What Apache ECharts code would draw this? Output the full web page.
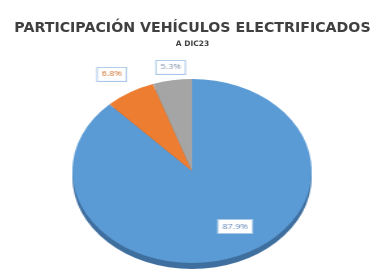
<!DOCTYPE html>
<html>
<head>
<meta charset="utf-8">
<script src="https://cdn.jsdelivr.net/npm/echarts@6/dist/echarts.min.js"></script>
<style>
  body { margin: 0; background: #fff; }
  .wrap { position: relative; width: 385px; height: 272px; overflow: hidden; }
  #titulo, #torta { position: absolute; left: 0; top: 0; width: 385px; height: 272px; }
  /* la torta de Excel es 3D e inclinada: se estira en horizontal */
  #torta { transform: scaleX(1.3); transform-origin: 192px 0; }
</style>
</head>
<body>
<div class="wrap">
  <div id="titulo"></div>
  <div id="torta"></div>
</div>
<script>
  // datos (participacion a dic-23)
  var tipos = ['Híbridos', 'Híbridos enchufables', 'Eléctricos'];
  var participacion = [87.9, 6.8, 5.3];

  var colores = ['#5b9bd5', '#ed7d31', '#a5a5a5'];
  var coloresLado = ['#3f6f9f', '#b25b21', '#7a7a7a'];
  var coloresTexto = ['#5f86b6', '#cf6f2c', '#8094ad'];

  var titulo = echarts.init(document.getElementById('titulo'));
  titulo.setOption({
    title: [
      {
        text: 'PARTICIPACIÓN VEHÍCULOS ELECTRIFICADOS',
        left: 'center',
        top: 16,
        textStyle: { fontFamily: 'DejaVu Sans', fontSize: 14.2, fontWeight: 'bold', color: '#404040' }
      },
      {
        text: 'A DIC23',
        left: 'center',
        top: 35,
        textStyle: { fontFamily: 'DejaVu Sans', fontSize: 7.5, fontWeight: 'bold', color: '#404040' }
      }
    ]
  });

  var lado = tipos.map(function (t, i) {
    return { name: t, value: participacion[i], itemStyle: { color: coloresLado[i] } };
  });
  var arriba = tipos.map(function (t, i) {
    return {
      name: t,
      value: participacion[i],
      itemStyle: { color: colores[i] },
      label: {
        position: i === 0 ? 'inside' : 'outside',
        color: coloresTexto[i]
      }
    };
  });

  var torta = echarts.init(document.getElementById('torta'));
  torta.setOption({
    animation: false,
    series: [
      {
        // espesor de la torta
        type: 'pie',
        center: [192, 177],
        radius: 92,
        startAngle: 90,
        clockwise: true,
        silent: true,
        label: { show: false },
        labelLine: { show: false },
        data: lado
      },
      {
        type: 'pie',
        center: [192, 171],
        radius: 92,
        startAngle: 90,
        clockwise: true,
        itemStyle: { borderWidth: 0 },
        label: {
          show: true,
          formatter: function (p) { return p.value.toFixed(1) + '%'; },
          fontFamily: 'Open Sans',
          fontSize: 7,
          backgroundColor: '#fff',
          borderColor: '#a9c8e8',
          borderWidth: 1,
          padding: [3, 3]
        },
        labelLine: { show: false, length: 8, length2: 2 },
        labelLayout: function (p) {
          if (p.dataIndex === 0) return { dx: 15, dy: 10 };
          if (p.dataIndex === 1) return { dx: 10, dy: -15 };
          return { dx: 18, dy: -5 };
        },
        data: arriba
      }
    ]
  });
</script>
</body>
</html>
